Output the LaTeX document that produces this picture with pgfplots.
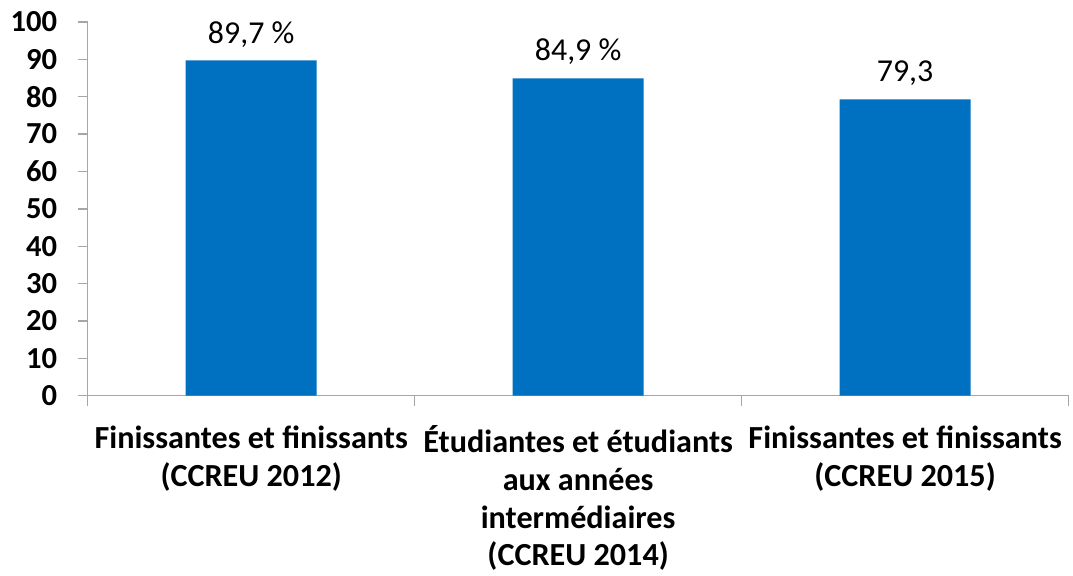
\documentclass[border=0pt]{standalone}
\usepackage{fontspec}
\setmainfont{Carlito}
\usepackage{pgfplots}
\usepackage{pgfplotstable}
\pgfplotsset{compat=1.18}
\definecolor{barblue}{HTML}{0070C0}
\definecolor{axgray}{HTML}{A6A6A6}
\pgfplotstableread{
x y label
0 89.7 {89,7 \%}
1 84.9 {84,9 \%}
2 79.3 {79,3}
}\data
\begin{document}
\begin{tikzpicture}
\begin{axis}[
 at={(0,0)}, anchor=south west,
 scale only axis, width=738pt, height=281.25pt,
 xmin=-0.5, xmax=2.5, ymin=0, ymax=100,
 axis x line=bottom, axis y line=left,
 axis line style={-, axgray, line width=1pt},
 ytick={0,10,...,100},
 yticklabel style={font=\fontsize{23}{28}\selectfont\bfseries, xshift=-12pt},
 /pgf/number format/assume math mode=true,
 xtick={-0.5,0.5,1.5,2.5}, xticklabels={},
 tick align=outside, major tick length=7.5pt,
 tick style={axgray, line width=1pt},
 extra x ticks={0,1,2},
 extra x tick labels={{Finissantes et finissants\\(CCREU 2012)},{Étudiantes et étudiants\\aux années\\intermédiaires\\(CCREU 2014)},{Finissantes et finissants\\(CCREU 2015)}},
 extra x tick style={major tick length=0pt, xticklabel style={align=center, font=\fontsize{24.2}{28.4}\selectfont\bfseries, anchor=north, yshift=-19pt}},
 ybar, bar width=98.5pt,
 nodes near coords, point meta=explicit symbolic,
 nodes near coords style={font=\fontsize{24}{28}\selectfont, black, yshift=6.5pt},
 clip=false,
]
\addplot[fill=barblue, draw=none] table[x=x, y=y, meta=label] {\data};
\end{axis}
\path (-66pt,-130.5pt) rectangle (738.75pt,297.75pt);
\end{tikzpicture}
\end{document}
